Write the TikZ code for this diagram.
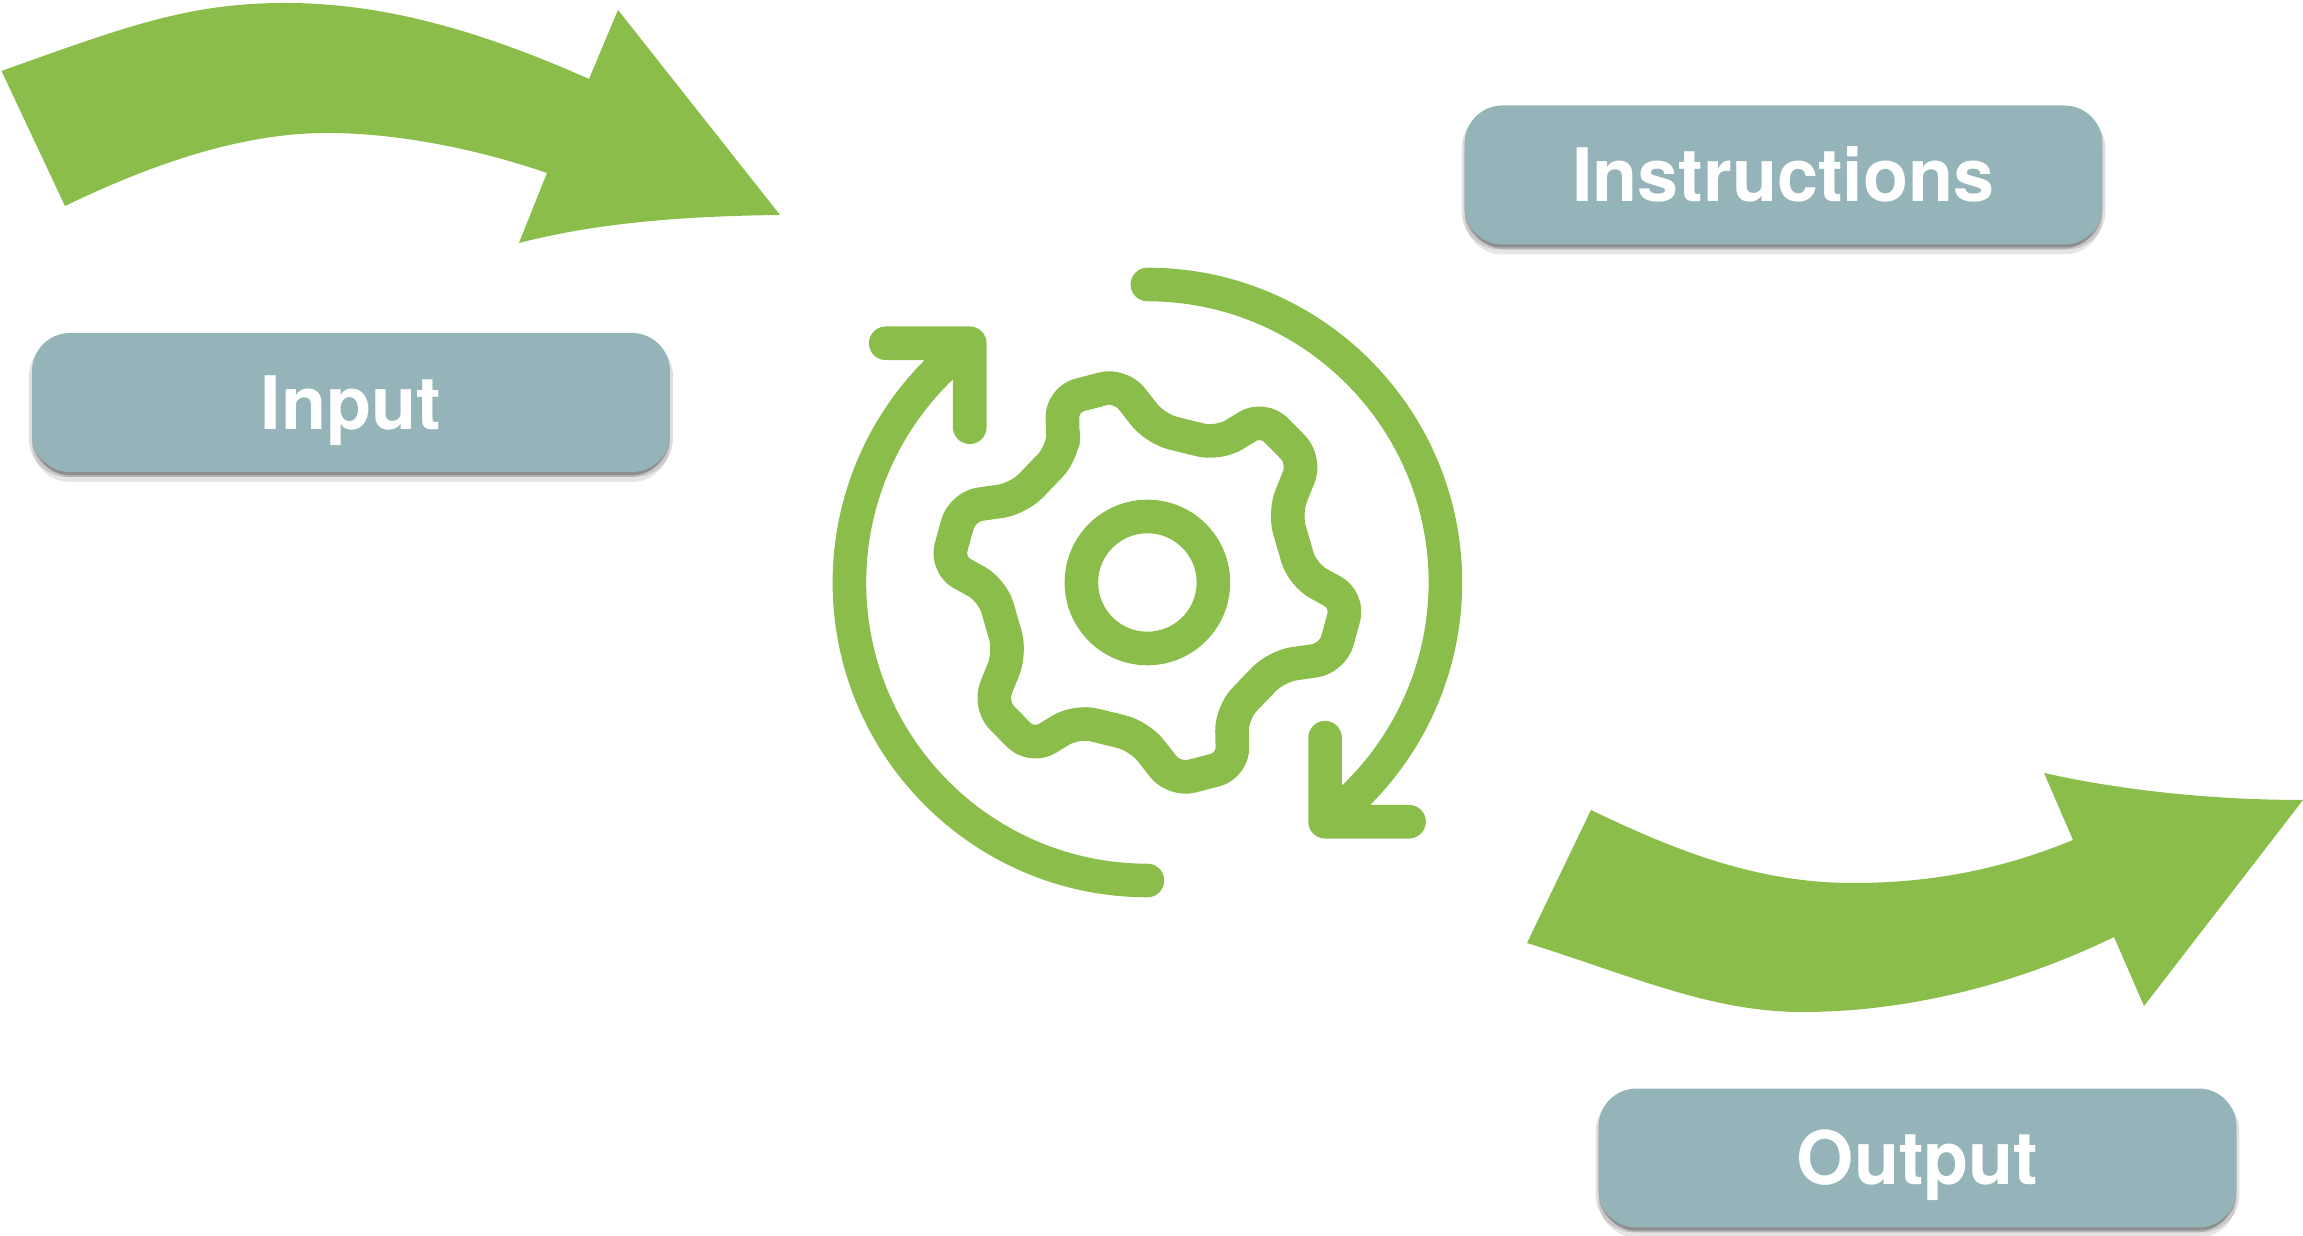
\documentclass[tikz,border=0pt]{standalone}
\usepackage{fontspec}
\setmainfont{TeX Gyre Heros}
\usetikzlibrary{shadows}
\definecolor{leafgreen}{HTML}{8BBD4B}
\definecolor{slateteal}{HTML}{94B4B9}

\begin{document}
\begin{tikzpicture}[
    x=0.02cm, y=0.02cm,
    stagebox/.style = {draw=none, fill=slateteal, rounded corners=0.76cm,
      minimum width=12.76cm, minimum height=2.78cm, inner sep=0pt,
      text=white, text height=1.08cm, text depth=0pt,
      font=\fontsize{42}{50}\selectfont\bfseries,
      drop shadow={shadow xshift=0pt, shadow yshift=-0.2cm, opacity=.1, fill=black},
      drop shadow={shadow xshift=-0.06cm, shadow yshift=-0.1cm, opacity=.12, fill=black},
      drop shadow={shadow xshift=0.06cm, shadow yshift=-0.1cm, opacity=.12, fill=black},
      drop shadow={shadow xshift=0pt, shadow yshift=-0.06cm, opacity=.2, fill=black}},
    flowarrow/.style = {fill=leafgreen, draw=none},
    iconline/.style = {draw=leafgreen, line width=0.672cm, line cap=round, line join=round}
  ]
  \useasboundingbox (0,0) rectangle (2303,1236);

  % big arrows
  \path [flowarrow] (1.5,1165) .. controls (130,1211) and (190,1233) .. (286,1233)
    .. controls (390,1233) and (490,1201) .. (589,1157)
    -- (618,1226) -- (780,1021)
    .. controls (690,1020) and (600,1014) .. (519,993)
    -- (547,1063)
    .. controls (480,1086) and (400,1103) .. (327,1103)
    .. controls (240,1103) and (150,1071) .. (65,1030) -- cycle;
  \path [flowarrow] (1591,426) .. controls (1680,383) and (1760,353) .. (1853,353)
    .. controls (1930,353) and (2000,366) .. (2073,396)
    -- (2044,463)
    .. controls (2120,446) and (2210,436) .. (2303,436)
    -- (2144,230) -- (2114,299)
    .. controls (2030,258) and (1920,224) .. (1802,224)
    .. controls (1710,224) and (1630,261) .. (1527,293) -- cycle;

  % boxes
  \node [stagebox] (input) at (351,833.5) {Input};
  \node [stagebox] (instructions) at (1783.5,1061) {Instructions};
  \node [stagebox] (output) at (1917.5,78) {Output};

  % gear and the two turning arrows
  \coordinate (hub) at (1147.4,653.5);
  \begin{scope}[shift={(hub)}]
    \draw [iconline] (0,0) circle (66);
    \draw [iconline, rounded corners=0.36cm] (-84.2,130.5)
      foreach \a in {0,60,...,300} {
        -- ([rotate=-\a]-84.2,130.5) -- ([rotate=-\a]-85.4,183) -- ([rotate=-\a]-26.9,198.2)
        -- ([rotate=-\a]8,153.6)
      } -- cycle;
    \draw [iconline] (0,298) arc (90:-53.4:298) -- ++(0,84) ++(0,-84) -- ++(84,0);
    \draw [iconline] (0,-298) arc (270:126.6:298) -- ++(0,-84) ++(0,84) -- ++(-84,0);
  \end{scope}
\end{tikzpicture}
\end{document}
